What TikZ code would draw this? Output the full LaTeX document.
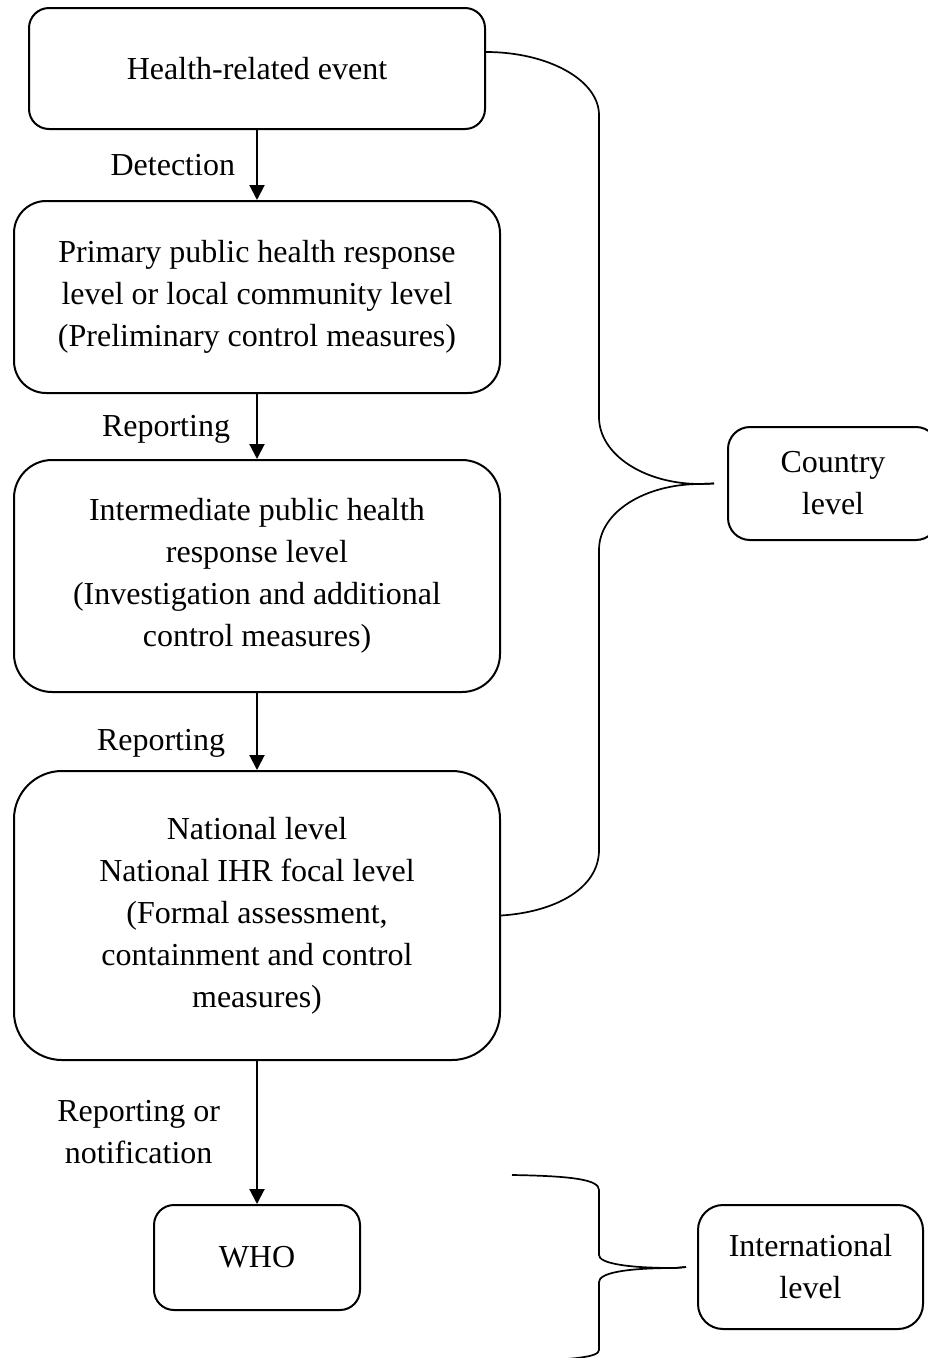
\documentclass[tikz,border=0pt]{standalone}
\usepackage{fontspec}
\setmainfont{Liberation Serif}
\usetikzlibrary{arrows.meta}
\tikzset{
    LevelBox/.style={draw, line width=2pt, align=center, inner sep=0pt},
    Flow/.style={line width=2pt, -{Triangle[width=15pt,length=15pt]}},
    Brace/.style={line width=1.7pt},
    FlowLabel/.style={inner sep=0pt, align=center}
}

\begin{document}
\begin{tikzpicture}[x=1pt,y=-1pt,font=\fontsize{32}{42}\selectfont]
    \useasboundingbox (0,0) rectangle (928,1358);
    % levels
    \node[LevelBox, minimum width=456pt, minimum height=121pt, rounded corners=20pt] (Event) at (257,68.5) {Health-related event};
    \node[LevelBox, minimum width=486pt, minimum height=192pt, rounded corners=32pt] (Primary) at (257,297)
        {Primary public health response\\level or local community level\\(Preliminary control measures)};
    \node[LevelBox, minimum width=486pt, minimum height=232pt, rounded corners=38pt] (Intermediate) at (257,576)
        {Intermediate public health\\response level\\(Investigation and additional\\control measures)};
    \node[LevelBox, minimum width=486pt, minimum height=289pt, rounded corners=48pt] (National) at (257,915.5)
        {National level\\National IHR focal level\\(Formal assessment,\\containment and control\\measures)};
    \node[LevelBox, minimum width=206pt, minimum height=105pt, rounded corners=20pt] (Who) at (257,1257.5) {WHO};
    \node[LevelBox, minimum width=210pt, minimum height=113pt, rounded corners=22pt] (Country) at (833,483.5) {Country\\level};
    \node[LevelBox, minimum width=225pt, minimum height=124pt, rounded corners=25pt] (International) at (810.5,1267) {International\\level};
    % flow
    \draw[Flow] (Event) -- node[FlowLabel, midway, left=21pt] (Detect) {Detection} (Primary);
    \draw[Flow] (Primary) -- node[FlowLabel, pos=0.55, left=26pt] (ReportA) {Reporting} (Intermediate);
    \draw[Flow] (Intermediate) -- node[FlowLabel, pos=0.65, left=31pt] (ReportB) {Reporting} (National);
    \draw[Flow] (National) -- node[FlowLabel, midway, left=36pt] (Notify) {Reporting or\\notification} (Who);
    % braces
    \coordinate (CountryTip) at ([xshift=-13pt]Country.west);
    \coordinate (InterTip) at ([xshift=-11pt]International.west);
    \draw[Brace] ([yshift=16.5pt]Event.east) .. controls (548,52) and (599,80) .. (599,115)
        -- (599,417) .. controls (599,455) and (645,484) .. (700,484) -- (CountryTip);
    \draw[Brace] (CountryTip) -- (700,484) .. controls (645,484) and (599,512) .. (599,550)
        -- (599,850) .. controls (599,888) and (556,912) .. (National.east);
    \draw[Brace] (512,1175) .. controls (575,1176) and (599,1180) .. (599,1190)
        -- (599,1255) .. controls (599,1263) and (625,1268) .. (675,1268) -- (InterTip);
    \draw[Brace] (InterTip) -- (675,1268) .. controls (625,1268) and (599,1273) .. (599,1282)
        -- (599,1350) .. controls (599,1357) and (575,1360) .. (512,1361);
\end{tikzpicture}
\end{document}
